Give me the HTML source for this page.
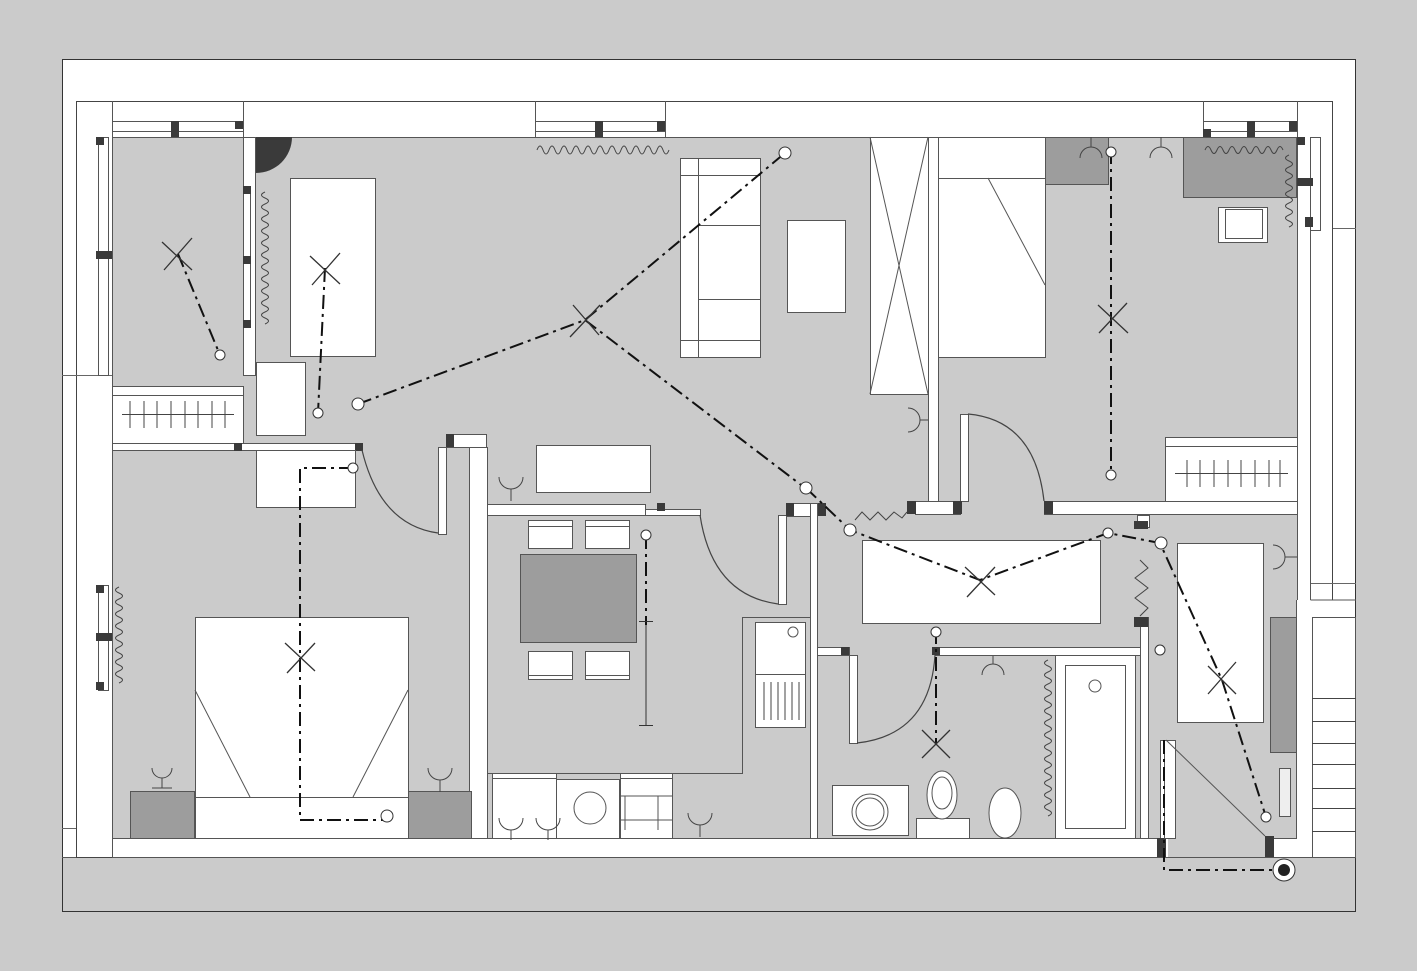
<!DOCTYPE html>
<html><head><meta charset="utf-8"><style>html,body{margin:0;padding:0;background:#cbcbcb}svg{display:block}</style></head>
<body>
<svg width="1417" height="971" viewBox="0 0 1417 971" xmlns="http://www.w3.org/2000/svg" font-family="Liberation Sans, sans-serif">
<rect x="0" y="0" width="1417" height="971" fill="#cbcbcb"/>
<!-- frame -->
<rect x="62.5" y="59.5" width="1293" height="852" fill="#fff" stroke="#333"/>
<rect x="63" y="857" width="1292" height="54" fill="#cbcbcb"/>
<line x1="62" y1="857.5" x2="1356" y2="857.5" stroke="#555"/>
<!-- outer walls -->
<rect x="76.5" y="101.5" width="1256" height="36" fill="#fff" stroke="#444"/>
<rect x="76.5" y="101.5" width="36" height="756" fill="#fff" stroke="#444"/>
<rect x="1297.5" y="101.5" width="35" height="500" fill="#fff" stroke="#444"/>
<line x1="62" y1="375.5" x2="112" y2="375.5" stroke="#666"/>
<line x1="62" y1="828.5" x2="76" y2="828.5" stroke="#666"/>
<line x1="1310" y1="583.5" x2="1356" y2="583.5" stroke="#666"/>
<line x1="1333" y1="228.5" x2="1356" y2="228.5" stroke="#666"/>
<!-- interior gray -->
<g fill="#cbcbcb" stroke="#555">
<rect x="112.5" y="137.5" width="1185" height="701"/>
</g>
<!-- right stair zone -->
<rect x="1297" y="600" width="58" height="257" fill="#fff"/>
<rect x="1312.5" y="617.5" width="43" height="240" fill="#fff" stroke="#555"/>
<g stroke="#444"><line x1="1312" y1="698.5" x2="1356" y2="698.5"/><line x1="1312" y1="721.5" x2="1356" y2="721.5"/><line x1="1312" y1="743.5" x2="1356" y2="743.5"/><line x1="1312" y1="764.5" x2="1356" y2="764.5"/><line x1="1312" y1="788.5" x2="1356" y2="788.5"/><line x1="1312" y1="808.5" x2="1356" y2="808.5"/><line x1="1312" y1="831.5" x2="1356" y2="831.5"/></g>
<rect x="1297" y="802" width="15" height="55" fill="#fff"/>
<line x1="1296.5" y1="600" x2="1296.5" y2="838" stroke="#555"/>
<line x1="1310.5" y1="137" x2="1310.5" y2="600" stroke="#555"/>
<line x1="1310.5" y1="600" x2="1356" y2="600" stroke="#555"/>
<!-- bottom wall -->
<rect x="112.5" y="838.5" width="1048" height="19" fill="#fff" stroke="#555"/>
<rect x="1168" y="838" width="105" height="19" fill="#cbcbcb"/>
<!-- windows top -->
<g fill="#fff" stroke="#555">
<rect x="112.5" y="121.5" width="131" height="10"/>
<rect x="535.5" y="121.5" width="130" height="10"/>
<rect x="1203.5" y="121.5" width="94" height="10"/>
<rect x="98.5" y="137.5" width="10" height="238"/>
<rect x="98.5" y="585.5" width="10" height="105"/>
<rect x="1310.5" y="137.5" width="10" height="93"/>
</g>
<line x1="112.5" y1="101" x2="112.5" y2="137" stroke="#555"/>
<line x1="243.5" y1="101" x2="243.5" y2="137" stroke="#555"/>
<line x1="535.5" y1="101" x2="535.5" y2="137" stroke="#555"/>
<line x1="665.5" y1="101" x2="665.5" y2="137" stroke="#555"/>
<line x1="1203.5" y1="101" x2="1203.5" y2="137" stroke="#555"/>
<line x1="1297.5" y1="101" x2="1297.5" y2="137" stroke="#555"/>
<g fill="#3a3a3a">
<rect x="171" y="121" width="8" height="16"/><rect x="235" y="121" width="8" height="8"/>
<rect x="595" y="121" width="8" height="16"/><rect x="657" y="121" width="8" height="10"/>
<rect x="1203" y="129" width="8" height="8"/><rect x="1247" y="121" width="8" height="16"/><rect x="1289" y="121" width="8" height="10"/>
<rect x="96" y="137" width="8" height="8"/><rect x="96" y="251" width="16" height="8"/>
<rect x="96" y="585" width="8" height="8"/><rect x="96" y="633" width="16" height="8"/><rect x="96" y="682" width="8" height="8"/>
<rect x="1297" y="137" width="8" height="8"/><rect x="1297" y="178" width="16" height="8"/><rect x="1305" y="217" width="8" height="10"/>
</g>
<!-- interior walls -->
<g fill="#fff" stroke="#555">
<rect x="243.5" y="137.5" width="12" height="238"/>
<rect x="243.5" y="186.5" width="7" height="140"/>
<rect x="112.5" y="443.5" width="250" height="7"/>
<rect x="112.5" y="386.5" width="131" height="57"/>
<rect x="438.5" y="447.5" width="8" height="87"/>
<rect x="446.5" y="434.5" width="40" height="13"/>
<rect x="469.5" y="447.5" width="18" height="391"/>
<rect x="487.5" y="504.5" width="158" height="11"/>
<rect x="645.5" y="509.5" width="55" height="6"/>
<rect x="778.5" y="515.5" width="8" height="89"/>
<rect x="786.5" y="503.5" width="24" height="13"/>
<rect x="810.5" y="503.5" width="7" height="335"/>
<rect x="817.5" y="647.5" width="32" height="8"/>
<rect x="849.5" y="655.5" width="8" height="88"/>
<rect x="935.5" y="647.5" width="205" height="8"/>
<rect x="1140.5" y="617.5" width="8" height="221"/>
<rect x="1160.5" y="740.5" width="7" height="98"/>
<rect x="1137.5" y="515.5" width="12" height="12"/>
<rect x="928.5" y="137.5" width="10" height="364"/>
<rect x="915.5" y="501.5" width="45" height="13"/>
<rect x="960.5" y="414.5" width="8" height="87"/>
<rect x="1044.5" y="501.5" width="253" height="13"/>
</g>
<g fill="#3a3a3a">
<rect x="234" y="443" width="8" height="8"/><rect x="355" y="443" width="8" height="8"/>
<rect x="243" y="186" width="8" height="8"/><rect x="243" y="256" width="8" height="8"/><rect x="243" y="320" width="8" height="8"/>
<rect x="446" y="434" width="8" height="13"/>
<rect x="657" y="503" width="8" height="8"/>
<rect x="786" y="503" width="8" height="13"/><rect x="818" y="503" width="8" height="13"/>
<rect x="907" y="501" width="9" height="13"/><rect x="953" y="501" width="9" height="13"/>
<rect x="1044" y="501" width="9" height="13"/>
<rect x="1134" y="521" width="14" height="8"/><rect x="1134" y="617" width="14" height="10"/>
<rect x="841" y="647" width="8" height="8"/><rect x="932" y="647" width="8" height="8"/>
<rect x="1157" y="838" width="9" height="19"/><rect x="1265" y="836" width="9" height="21"/>
</g>
<path d="M256 137 h36 a36 36 0 0 1 -36 36z" fill="#3a3a3a"/>
<!-- doors arcs -->
<g fill="none" stroke="#444" stroke-width="1.2">
<path d="M362 450 Q380 525 438 533"/>
<path d="M700 515 Q712 595 778 604"/>
<path d="M857 743 Q930 735 935 655"/>
<path d="M968 414 Q1035 420 1044 501"/>
</g>
<!-- furniture -->
<g fill="#fff" stroke="#555">
<rect x="290.5" y="178.5" width="85" height="178"/>
<rect x="256.5" y="362.5" width="49" height="73"/>
<rect x="256.5" y="450.5" width="99" height="57"/>
<rect x="680.5" y="158.5" width="80" height="199"/>
<rect x="787.5" y="220.5" width="58" height="92"/>
<rect x="870.5" y="137.5" width="58" height="257"/>
<rect x="938.5" y="137.5" width="107" height="220"/>
<rect x="1218.5" y="207.5" width="49" height="35"/>
<rect x="1165.5" y="437.5" width="132" height="64"/>
<rect x="536.5" y="445.5" width="114" height="47"/>
<rect x="528.5" y="520.5" width="44" height="28"/><rect x="585.5" y="520.5" width="44" height="28"/>
<rect x="528.5" y="651.5" width="44" height="28"/><rect x="585.5" y="651.5" width="44" height="28"/>
<rect x="755.5" y="622.5" width="50" height="105"/>
<rect x="492.5" y="773.5" width="64" height="65"/><rect x="556.5" y="779.5" width="63" height="59"/><rect x="620.5" y="773.5" width="52" height="65"/>
<rect x="195.5" y="617.5" width="213" height="221"/>
<rect x="862.5" y="540.5" width="238" height="83"/>
<rect x="1177.5" y="543.5" width="86" height="179"/>
<rect x="1055.5" y="655.5" width="80" height="183"/>
<rect x="1065.5" y="665.5" width="60" height="163"/>
<rect x="832.5" y="785.5" width="76" height="50"/>
<rect x="916.5" y="818.5" width="53" height="20"/>
<rect x="1164.5" y="740.5" width="11" height="98"/>
<rect x="1279.5" y="768.5" width="11" height="48" fill="#eee"/>
</g>
<g fill="none" stroke="#555">
<line x1="680" y1="175.5" x2="760" y2="175.5"/><line x1="698.5" y1="158" x2="698.5" y2="357"/><line x1="698" y1="225.5" x2="760" y2="225.5"/><line x1="698" y1="299.5" x2="760" y2="299.5"/><line x1="680" y1="340.5" x2="760" y2="340.5"/>
<line x1="870" y1="137" x2="928" y2="394"/><line x1="928" y1="137" x2="870" y2="394"/>
<line x1="938" y1="178.5" x2="1045" y2="178.5"/><line x1="988" y1="178" x2="1045" y2="285"/>
<rect x="1225.5" y="209.5" width="37" height="29"/>
<line x1="1165" y1="446.5" x2="1297" y2="446.5"/>
<line x1="112" y1="395.5" x2="243" y2="395.5"/>
<line x1="528" y1="526.5" x2="572" y2="526.5"/><line x1="585" y1="526.5" x2="629" y2="526.5"/>
<line x1="528" y1="675.5" x2="572" y2="675.5"/><line x1="585" y1="675.5" x2="629" y2="675.5"/>
<line x1="755" y1="674.5" x2="805" y2="674.5"/>
<line x1="492" y1="778.5" x2="556" y2="778.5"/><line x1="620" y1="778.5" x2="672" y2="778.5"/>
<polyline points="487,773.5 742.5,773.5 742.5,617.5 810,617.5"/>
<line x1="195" y1="797.5" x2="408" y2="797.5"/><line x1="195" y1="690" x2="250" y2="797"/><line x1="408" y1="690" x2="353" y2="797"/>
<circle cx="793" cy="632" r="5"/><circle cx="590" cy="808" r="16"/><circle cx="1095" cy="686" r="6"/>
<circle cx="870" cy="812" r="18"/><circle cx="870" cy="812" r="14"/>
<line x1="625" y1="796" x2="625" y2="830"/><line x1="658" y1="796" x2="658" y2="830"/><line x1="620" y1="796" x2="672" y2="796"/><line x1="620" y1="820" x2="672" y2="820"/>
<line x1="1166" y1="740" x2="1265" y2="836"/>
</g>
<g stroke="#444"><line x1="764" y1="682" x2="764" y2="720"/><line x1="771" y1="682" x2="771" y2="720"/><line x1="778" y1="682" x2="778" y2="720"/><line x1="785" y1="682" x2="785" y2="720"/><line x1="792" y1="682" x2="792" y2="720"/><line x1="799" y1="682" x2="799" y2="720"/></g>
<ellipse cx="942" cy="795" rx="15" ry="24" fill="#fff" stroke="#555"/><ellipse cx="942" cy="793" rx="10" ry="16" fill="none" stroke="#555"/>
<ellipse cx="1005" cy="813" rx="16" ry="25" fill="#fff" stroke="#555"/>
<!-- dark furniture -->
<g fill="#9d9d9d" stroke="#555">
<rect x="520.5" y="554.5" width="116" height="88"/>
<rect x="130.5" y="791.5" width="64" height="47"/>
<rect x="408.5" y="791.5" width="63" height="47"/>
<rect x="1045.5" y="137.5" width="63" height="47"/>
<rect x="1183.5" y="137.5" width="113" height="60"/>
<rect x="1270.5" y="617.5" width="26" height="135"/>
</g>
<!-- radiators -->
<g stroke="#444">
<line x1="122" y1="414.5" x2="234" y2="414.5"/>
<line x1="130" y1="401" x2="130" y2="428"/><line x1="144" y1="401" x2="144" y2="428"/><line x1="157" y1="401" x2="157" y2="428"/><line x1="171" y1="401" x2="171" y2="428"/><line x1="185" y1="401" x2="185" y2="428"/><line x1="198" y1="401" x2="198" y2="428"/><line x1="212" y1="401" x2="212" y2="428"/><line x1="225" y1="401" x2="225" y2="428"/>
<line x1="1175" y1="473.5" x2="1288" y2="473.5"/>
<line x1="1187" y1="460" x2="1187" y2="487"/><line x1="1200" y1="460" x2="1200" y2="487"/><line x1="1214" y1="460" x2="1214" y2="487"/><line x1="1228" y1="460" x2="1228" y2="487"/><line x1="1241" y1="460" x2="1241" y2="487"/><line x1="1255" y1="460" x2="1255" y2="487"/><line x1="1269" y1="460" x2="1269" y2="487"/><line x1="1280" y1="460" x2="1280" y2="487"/>
</g>
<!-- wavy curtains -->
<g fill="none" stroke="#444">
<path d="M537 150 q3 -8 6 0 q3 8 6 0 q3 -8 6 0 q3 8 6 0 q3 -8 6 0 q3 8 6 0 q3 -8 6 0 q3 8 6 0 q3 -8 6 0 q3 8 6 0 q3 -8 6 0 q3 8 6 0 q3 -8 6 0 q3 8 6 0 q3 -8 6 0 q3 8 6 0 q3 -8 6 0 q3 8 6 0 q3 -8 6 0 q3 8 6 0 q3 -8 6 0 q3 8 6 0"/>
<path d="M1205 150 q3 -7 6 0 q3 7 6 0 q3 -7 6 0 q3 7 6 0 q3 -7 6 0 q3 7 6 0 q3 -7 6 0 q3 7 6 0 q3 -7 6 0 q3 7 6 0 q3 -7 6 0 q3 7 6 0 q3 -7 6 0"/>
<path d="M265 192 q-7 3 0 6 q7 3 0 6 q-7 3 0 6 q7 3 0 6 q-7 3 0 6 q7 3 0 6 q-7 3 0 6 q7 3 0 6 q-7 3 0 6 q7 3 0 6 q-7 3 0 6 q7 3 0 6 q-7 3 0 6 q7 3 0 6 q-7 3 0 6 q7 3 0 6 q-7 3 0 6 q7 3 0 6 q-7 3 0 6 q7 3 0 6 q-7 3 0 6 q7 3 0 6"/>
<path d="M119 587 q-7 3 0 6 q7 3 0 6 q-7 3 0 6 q7 3 0 6 q-7 3 0 6 q7 3 0 6 q-7 3 0 6 q7 3 0 6 q-7 3 0 6 q7 3 0 6 q-7 3 0 6 q7 3 0 6 q-7 3 0 6 q7 3 0 6 q-7 3 0 6 q7 3 0 6"/>
<path d="M1289 155 q-7 3 0 6 q7 3 0 6 q-7 3 0 6 q7 3 0 6 q-7 3 0 6 q7 3 0 6 q-7 3 0 6 q7 3 0 6 q-7 3 0 6 q7 3 0 6 q-7 3 0 6 q7 3 0 6"/>
<path d="M1048 660 q-7 3 0 6 q7 3 0 6 q-7 3 0 6 q7 3 0 6 q-7 3 0 6 q7 3 0 6 q-7 3 0 6 q7 3 0 6 q-7 3 0 6 q7 3 0 6 q-7 3 0 6 q7 3 0 6 q-7 3 0 6 q7 3 0 6 q-7 3 0 6 q7 3 0 6 q-7 3 0 6 q7 3 0 6 q-7 3 0 6 q7 3 0 6 q-7 3 0 6 q7 3 0 6 q-7 3 0 6 q7 3 0 6 q-7 3 0 6 q7 3 0 6"/>
<polyline points="855,520 862,512 870,520 878,512 886,520 894,512 902,518 907,512"/>
<polyline points="1140,560 1148,568 1135,578 1148,588 1135,598 1148,608 1140,616"/>
</g>
<!-- sockets -->
<g fill="none" stroke="#444">
<path d="M150 780 a10 10 0 0 0 20 0 M160 790 v10 M150 800 h20" transform="translate(2,-12)"/>
<path d="M428 768 a12 12 0 0 0 24 0 M440 780 v12"/>
<path d="M499 477 a12 12 0 0 0 24 0 M511 489 v12"/>
<path d="M1080 158 a11 11 0 0 1 22 0 M1091 147 v-10"/>
<path d="M1150 158 a11 11 0 0 1 22 0 M1161 147 v-10"/>
<path d="M982 675 a11 11 0 0 1 22 0 M993 664 v-8"/>
<path d="M908 408 a12 12 0 0 1 0 24 M920 420 h8"/>
<path d="M1273 545 a12 12 0 0 1 0 24 M1285 557 h12"/>
<path d="M499 818 a12 12 0 0 0 24 0 M511 830 v10 M536 818 a12 12 0 0 0 24 0 M548 830 v10 M688 813 a12 12 0 0 0 24 0 M700 825 v12"/>
</g>
<!-- wiring dash-dot -->
<g fill="none" stroke="#111" stroke-width="2" stroke-dasharray="14 5 3 5">
<polyline points="178,254 220,355"/>
<polyline points="325,268 318,413"/>
<polyline points="358,404 585,320 785,153"/>
<polyline points="585,320 805,488"/>
<polyline points="806,488 850,530 980,580 1108,533 1160,543 1222,680 1266,817"/>
<polyline points="1111,150 1111,475"/>
<polyline points="646,535 646,625"/>
<polyline points="936,630 936,745"/>
<polyline points="353,468 300,468 300,820 387,820"/>
<polyline points="1164,740 1164,870 1285,870"/>
</g>
<line x1="646" y1="625" x2="646" y2="725" stroke="#333"/>
<line x1="639" y1="725.5" x2="653" y2="725.5" stroke="#333"/>
<line x1="639" y1="621.5" x2="653" y2="621.5" stroke="#333"/>
<!-- lamps X -->
<g stroke="#333" stroke-width="1.3">
<path d="M162 242 l30 28 M192 238 l-28 32"/>
<path d="M310 256 l30 28 M340 253 l-28 32"/>
<path d="M573 305 l26 30 M600 305 l-30 32"/>
<path d="M965 567 l30 28 M995 567 l-28 30"/>
<path d="M1098 305 l30 28 M1127 303 l-28 30"/>
<path d="M285 643 l30 28 M315 643 l-28 30"/>
<path d="M922 730 l28 28 M950 730 l-28 28"/>
<path d="M1208 666 l28 28 M1236 662 l-28 32"/>
</g>
<!-- switches -->
<g fill="#fff" stroke="#333">
<circle cx="220" cy="355" r="5"/><circle cx="318" cy="413" r="5"/><circle cx="358" cy="404" r="6"/>
<circle cx="785" cy="153" r="6"/><circle cx="806" cy="488" r="6"/><circle cx="850" cy="530" r="6"/>
<circle cx="1108" cy="533" r="5"/><circle cx="1161" cy="543" r="6"/><circle cx="1266" cy="817" r="5"/>
<circle cx="1111" cy="152" r="5"/><circle cx="1111" cy="475" r="5"/>
<circle cx="646" cy="535" r="5"/><circle cx="936" cy="632" r="5"/>
<circle cx="353" cy="468" r="5"/><circle cx="387" cy="816" r="6"/>
<circle cx="1160" cy="650" r="5"/>
</g>
<circle cx="1284" cy="870" r="11" fill="#fff" stroke="#333"/>
<circle cx="1284" cy="870" r="6" fill="#222"/>
</svg>
</body></html>
